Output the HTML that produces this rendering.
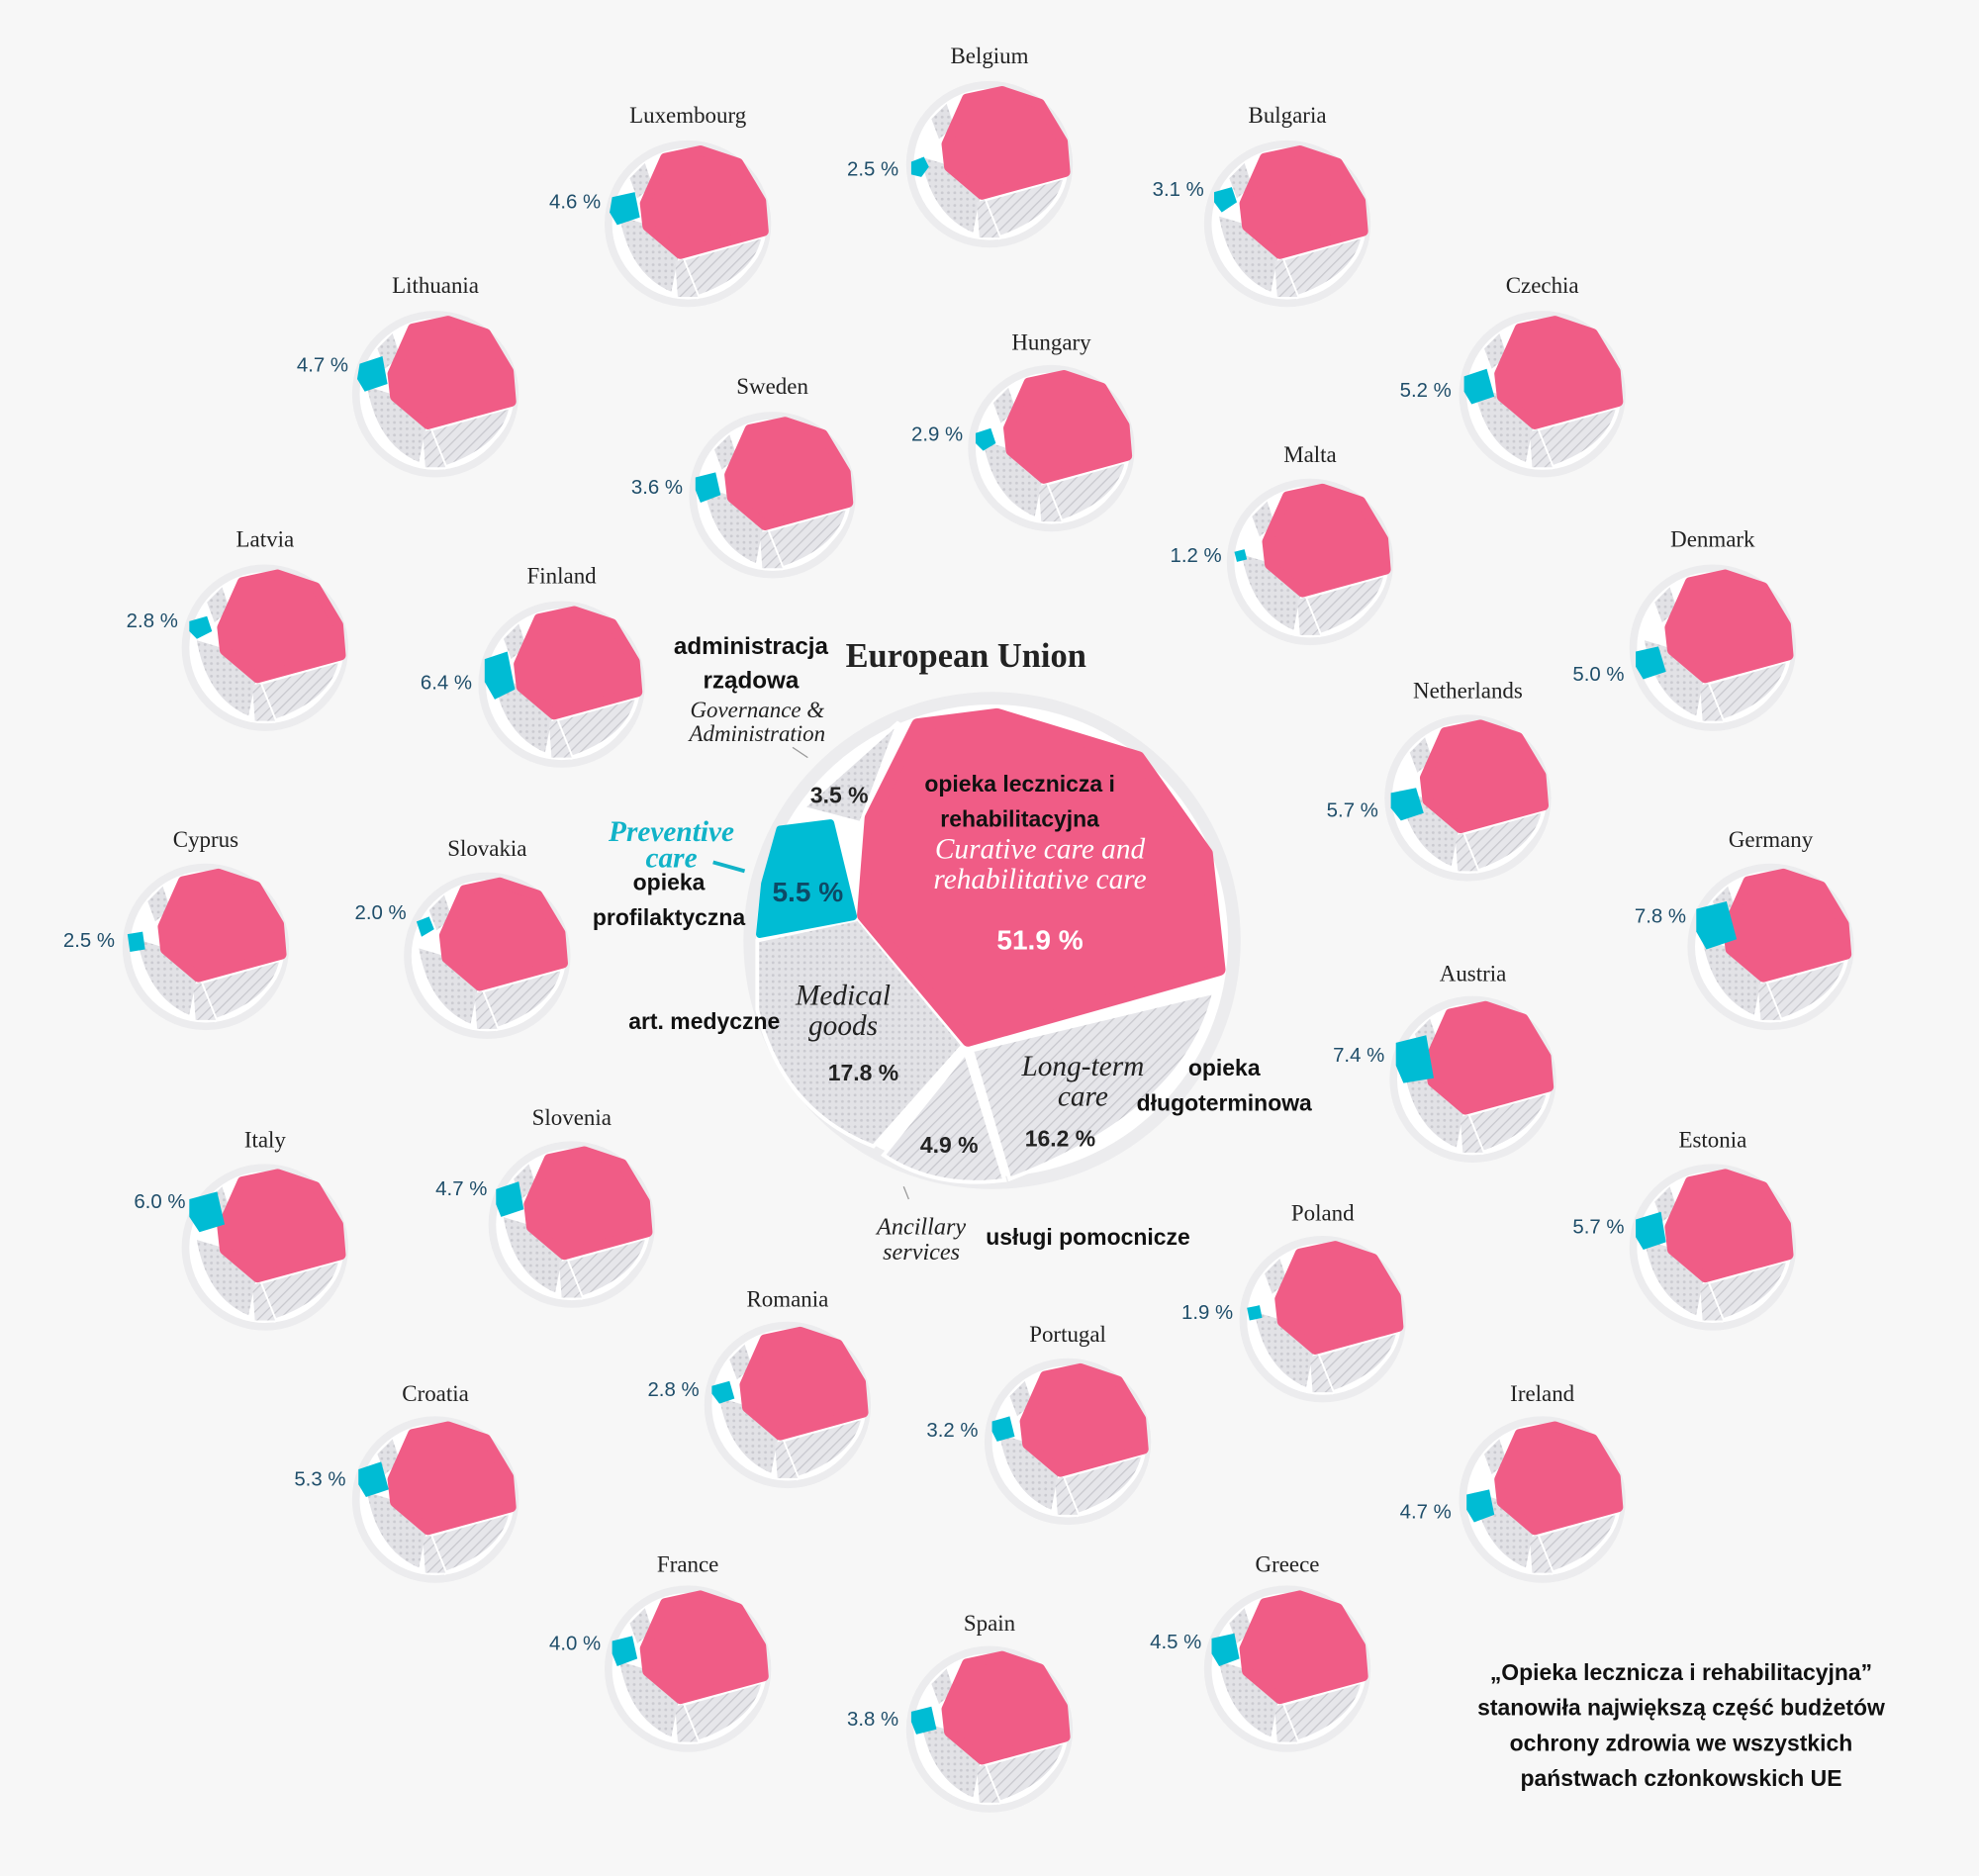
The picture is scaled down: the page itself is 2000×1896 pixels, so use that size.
<!DOCTYPE html>
<html><head><meta charset="utf-8"><style>
html,body{margin:0;padding:0;background:#f7f7f7;}
svg{display:block;}
text{font-family:"Liberation Serif",serif;}
.lbl{font-size:18px;fill:#222;text-anchor:middle;}
.pct{font-family:"Liberation Sans",sans-serif;font-size:16px;fill:#1f4e6a;text-anchor:end;}
text.b{font-family:"Liberation Sans",sans-serif;font-weight:bold;font-size:19px;fill:#111;}
.it{font-style:italic;}
</style></head><body>
<svg width="2000" height="1896" viewBox="0 0 1568 1486" xmlns="http://www.w3.org/2000/svg">
<defs>
<pattern id="dot" width="5" height="5" patternUnits="userSpaceOnUse"><rect width="5" height="5" fill="#e2e2e6"/><circle cx="2.5" cy="2.5" r="1.1" fill="#cacad0"/></pattern>
<pattern id="hat" width="6" height="6" patternUnits="userSpaceOnUse" patternTransform="rotate(45)"><rect width="6" height="6" fill="#e6e6ea"/><line x1="0" y1="0" x2="0" y2="6" stroke="#c8c8ce" stroke-width="2"/></pattern>
<g id="m">
<circle r="66" fill="#ececee"/>
<circle r="60" fill="#fff"/>
<path d="M-56,-8 L-36,-2 L-6,26 L-12,56 Q-48,42 -56,-8Z" fill="url(#dot)" stroke="#fff" stroke-width="3"/>
<path d="M-4,28 L60,10 Q54,42 8,58 Z" fill="url(#hat)" stroke="#fff" stroke-width="3"/>
<path d="M-10,30 L-4,28 L8,58 L-8,58Z" fill="url(#hat)"/>
<path d="M-46,-36 L-34,-48 L-28,-30 L-40,-20Z" fill="url(#dot)"/>
<path d="M-34,-16 L-18,-52 L10,-58 L40,-48 L58,-18 L60,6 L-6,24 L-32,2Z" fill="#f05c86" stroke="#f05c86" stroke-width="8" stroke-linejoin="round"/>
</g>
</defs>
<rect width="1568" height="1486" fill="#f7f7f7"/>
<g>
<use href="#m" x="784" y="130"/><path d="M722,128 l10,-4 4,8 -6,8 -8,-2z" fill="#00bcd4"/><text class="lbl" x="784" y="50">Belgium</text><text class="pct" x="712" y="139">2.5 %</text>
<use href="#m" x="545" y="177"/><path d="M485,156 l18,-4 4,20 -18,6 -6,-10z" fill="#00bcd4"/><text class="lbl" x="545" y="97">Luxembourg</text><text class="pct" x="476" y="165">4.6 %</text>
<use href="#m" x="1020" y="177"/><path d="M962,152 l14,-4 4,12 -12,8 -6,-8z" fill="#00bcd4"/><text class="lbl" x="1020" y="97">Bulgaria</text><text class="pct" x="954" y="155">3.1 %</text>
<use href="#m" x="345" y="312"/><path d="M285,288 l18,-6 4,22 -18,6 -6,-10z" fill="#00bcd4"/><text class="lbl" x="345" y="232">Lithuania</text><text class="pct" x="276" y="294">4.7 %</text>
<use href="#m" x="1222" y="312"/><path d="M1160,298 l18,-6 6,22 -18,6 -6,-10z" fill="#00bcd4"/><text class="lbl" x="1222" y="232">Czechia</text><text class="pct" x="1150" y="314">5.2 %</text>
<use href="#m" x="833" y="355"/><path d="M773,343 l12,-4 4,12 -10,6 -6,-6z" fill="#00bcd4"/><text class="lbl" x="833" y="277">Hungary</text><text class="pct" x="763" y="349">2.9 %</text>
<use href="#m" x="612" y="392"/><path d="M551,378 l16,-4 4,18 -16,6 -4,-10z" fill="#00bcd4"/><text class="lbl" x="612" y="312">Sweden</text><text class="pct" x="541" y="391">3.6 %</text>
<use href="#m" x="1038" y="445"/><path d="M978,437 l8,-2 2,8 -8,2z" fill="#00bcd4"/><text class="lbl" x="1038" y="366">Malta</text><text class="pct" x="968" y="445">1.2 %</text>
<use href="#m" x="210" y="513"/><path d="M150,492 l14,-4 4,12 -12,6 -6,-6z" fill="#00bcd4"/><text class="lbl" x="210" y="433">Latvia</text><text class="pct" x="141" y="497">2.8 %</text>
<use href="#m" x="445" y="542"/><path d="M384,522 l18,-6 6,30 -16,8 -8,-14z" fill="#00bcd4"/><text class="lbl" x="445" y="462">Finland</text><text class="pct" x="374" y="546">6.4 %</text>
<use href="#m" x="1357" y="513"/><path d="M1296,516 l18,-4 6,20 -18,6 -6,-10z" fill="#00bcd4"/><text class="lbl" x="1357" y="433">Denmark</text><text class="pct" x="1287" y="539">5.0 %</text>
<use href="#m" x="1163" y="632"/><path d="M1102,628 l20,-4 6,20 -18,6 -8,-10z" fill="#00bcd4"/><text class="lbl" x="1163" y="553">Netherlands</text><text class="pct" x="1092" y="647">5.7 %</text>
<use href="#m" x="163" y="750"/><path d="M101,740 l12,-2 2,14 -12,2z" fill="#00bcd4"/><text class="lbl" x="163" y="671">Cyprus</text><text class="pct" x="91" y="750">2.5 %</text>
<use href="#m" x="386" y="757"/><path d="M330,730 l10,-4 4,10 -10,6z" fill="#00bcd4"/><text class="lbl" x="386" y="678">Slovakia</text><text class="pct" x="322" y="728">2.0 %</text>
<use href="#m" x="1403" y="750"/><path d="M1344,720 l24,-6 8,30 -24,8 -8,-14z" fill="#00bcd4"/><text class="lbl" x="1403" y="671">Germany</text><text class="pct" x="1336" y="731">7.8 %</text>
<use href="#m" x="1167" y="855"/><path d="M1106,826 l24,-6 6,34 -24,4 -6,-14z" fill="#00bcd4"/><text class="lbl" x="1167" y="777">Austria</text><text class="pct" x="1097" y="841">7.4 %</text>
<use href="#m" x="210" y="988"/><path d="M150,950 l22,-6 6,26 -20,6 -8,-12z" fill="#00bcd4"/><text class="lbl" x="210" y="909">Italy</text><text class="pct" x="147" y="957">6.0 %</text>
<use href="#m" x="453" y="970"/><path d="M393,942 l18,-6 4,22 -18,6 -4,-10z" fill="#00bcd4"/><text class="lbl" x="453" y="891">Slovenia</text><text class="pct" x="386" y="947">4.7 %</text>
<use href="#m" x="1357" y="988"/><path d="M1296,966 l20,-6 4,24 -18,6 -6,-10z" fill="#00bcd4"/><text class="lbl" x="1357" y="909">Estonia</text><text class="pct" x="1287" y="977">5.7 %</text>
<use href="#m" x="1048" y="1045"/><path d="M988,1036 l10,-2 2,10 -10,2z" fill="#00bcd4"/><text class="lbl" x="1048" y="967">Poland</text><text class="pct" x="977" y="1045">1.9 %</text>
<use href="#m" x="624" y="1113"/><path d="M564,1098 l14,-4 4,14 -12,4 -6,-8z" fill="#00bcd4"/><text class="lbl" x="624" y="1035">Romania</text><text class="pct" x="554" y="1106">2.8 %</text>
<use href="#m" x="846" y="1142"/><path d="M786,1126 l14,-4 4,16 -14,4 -4,-8z" fill="#00bcd4"/><text class="lbl" x="846" y="1063">Portugal</text><text class="pct" x="775" y="1138">3.2 %</text>
<use href="#m" x="345" y="1188"/><path d="M284,1164 l18,-6 6,22 -18,6 -6,-10z" fill="#00bcd4"/><text class="lbl" x="345" y="1110">Croatia</text><text class="pct" x="274" y="1177">5.3 %</text>
<use href="#m" x="1222" y="1188"/><path d="M1162,1184 l18,-4 4,20 -16,6 -6,-10z" fill="#00bcd4"/><text class="lbl" x="1222" y="1110">Ireland</text><text class="pct" x="1150" y="1203">4.7 %</text>
<use href="#m" x="545" y="1322"/><path d="M485,1300 l16,-4 4,18 -16,6 -4,-10z" fill="#00bcd4"/><text class="lbl" x="545" y="1245">France</text><text class="pct" x="476" y="1307">4.0 %</text>
<use href="#m" x="784" y="1370"/><path d="M722,1356 l16,-4 4,18 -16,4 -4,-10z" fill="#00bcd4"/><text class="lbl" x="784" y="1292">Spain</text><text class="pct" x="712" y="1367">3.8 %</text>
<use href="#m" x="1020" y="1322"/><path d="M960,1298 l18,-4 4,20 -16,6 -6,-10z" fill="#00bcd4"/><text class="lbl" x="1020" y="1245">Greece</text><text class="pct" x="952" y="1306">4.5 %</text>
</g>
<circle cx="786" cy="745" r="197" fill="#ececee"/>
<circle cx="786" cy="745" r="187" fill="#fff"/>
<path d="M636,640 L712,572 L682,652 Z" fill="url(#dot)" stroke="#fff" stroke-width="3"/>
<path d="M600,745 L680,728 L763,828 L692,908 Q620,880 600,800Z" fill="url(#dot)" stroke="#fff" stroke-width="3"/>
<path d="M770,832 L962,786 Q940,880 800,934 Z" fill="url(#hat)" stroke="#fff" stroke-width="3"/>
<path d="M700,915 L765,834 L796,935 Q740,942 700,915Z" fill="url(#hat)" stroke="#fff" stroke-width="3"/>
<path d="M606,700 L618,657 L658,652 L676,726 L602,740Z" fill="#00bcd4" stroke="#00bcd4" stroke-width="6" stroke-linejoin="round"/>
<path d="M690,648 L727,574 L790,566 L902,600 L956,676 L966,768 L767,824 L684,725Z" fill="#f05c86" stroke="#f05c86" stroke-width="10" stroke-linejoin="round"/>
<line x1="640" y1="600" x2="628" y2="592" stroke="#999"/>
<line x1="716" y1="940" x2="720" y2="950" stroke="#999"/>
<text x="670" y="528" style="font-weight:bold;font-size:27px;fill:#222">European Union</text>
<text class="b" x="595" y="518" text-anchor="middle">administracja</text>
<text class="b" x="595" y="545" text-anchor="middle">rządowa</text>
<text class="it" x="600" y="568" text-anchor="middle" style="font-size:18px;fill:#222">Governance &amp;</text>
<text class="it" x="600" y="587" text-anchor="middle" style="font-size:18px;fill:#222">Administration</text>
<text x="665" y="636" text-anchor="middle" style="font-family:Liberation Sans;font-weight:bold;font-size:18px;fill:#222">3.5 %</text>
<text class="b" x="808" y="627" text-anchor="middle" style="font-size:18px">opieka lecznicza i</text>
<text class="b" x="808" y="655" text-anchor="middle" style="font-size:18px">rehabilitacyjna</text>
<text class="it" x="824" y="680" text-anchor="middle" style="font-size:23px;fill:#fff">Curative care and</text>
<text class="it" x="824" y="704" text-anchor="middle" style="font-size:23px;fill:#fff">rehabilitative care</text>
<text x="824" y="752" text-anchor="middle" style="font-family:Liberation Sans;font-weight:bold;font-size:22px;fill:#fff">51.9 %</text>
<text x="532" y="666" text-anchor="middle" style="font-style:italic;font-weight:bold;font-size:23px;fill:#12b3c8">Preventive</text>
<text x="532" y="687" text-anchor="middle" style="font-style:italic;font-weight:bold;font-size:23px;fill:#12b3c8">care</text>
<line x1="565" y1="683" x2="590" y2="690" stroke="#12b3c8" stroke-width="3"/>
<text class="b" x="530" y="705" text-anchor="middle" style="font-size:18px">opieka</text>
<text class="b" x="530" y="733" text-anchor="middle" style="font-size:18px">profilaktyczna</text>
<text x="640" y="714" text-anchor="middle" style="font-family:Liberation Sans;font-weight:bold;font-size:22px;fill:#0d4a66">5.5 %</text>
<text class="it" x="668" y="796" text-anchor="middle" style="font-size:23px;fill:#222">Medical</text>
<text class="it" x="668" y="820" text-anchor="middle" style="font-size:23px;fill:#222">goods</text>
<text class="b" x="558" y="815" text-anchor="middle" style="font-size:18px">art. medyczne</text>
<text x="684" y="856" text-anchor="middle" style="font-family:Liberation Sans;font-weight:bold;font-size:18px;fill:#222">17.8 %</text>
<text class="it" x="858" y="852" text-anchor="middle" style="font-size:23px;fill:#222">Long-term</text>
<text class="it" x="858" y="876" text-anchor="middle" style="font-size:23px;fill:#222">care</text>
<text class="b" x="970" y="852" text-anchor="middle" style="font-size:18px">opieka</text>
<text class="b" x="970" y="880" text-anchor="middle" style="font-size:18px">długoterminowa</text>
<text x="840" y="908" text-anchor="middle" style="font-family:Liberation Sans;font-weight:bold;font-size:18px;fill:#222">16.2 %</text>
<text x="752" y="913" text-anchor="middle" style="font-family:Liberation Sans;font-weight:bold;font-size:18px;fill:#222">4.9 %</text>
<text class="it" x="730" y="978" text-anchor="middle" style="font-size:19px;fill:#222">Ancillary</text>
<text class="it" x="730" y="998" text-anchor="middle" style="font-size:19px;fill:#222">services</text>
<text class="b" x="862" y="986" text-anchor="middle" style="font-size:18px">usługi pomocnicze</text>
<text class="b" x="1332" y="1331" text-anchor="middle" style="font-size:18px">„Opieka lecznicza i rehabilitacyjna”</text>
<text class="b" x="1332" y="1359" text-anchor="middle" style="font-size:18px">stanowiła największą część budżetów</text>
<text class="b" x="1332" y="1387" text-anchor="middle" style="font-size:18px">ochrony zdrowia we wszystkich</text>
<text class="b" x="1332" y="1415" text-anchor="middle" style="font-size:18px">państwach członkowskich UE</text>
</svg>
</body></html>
